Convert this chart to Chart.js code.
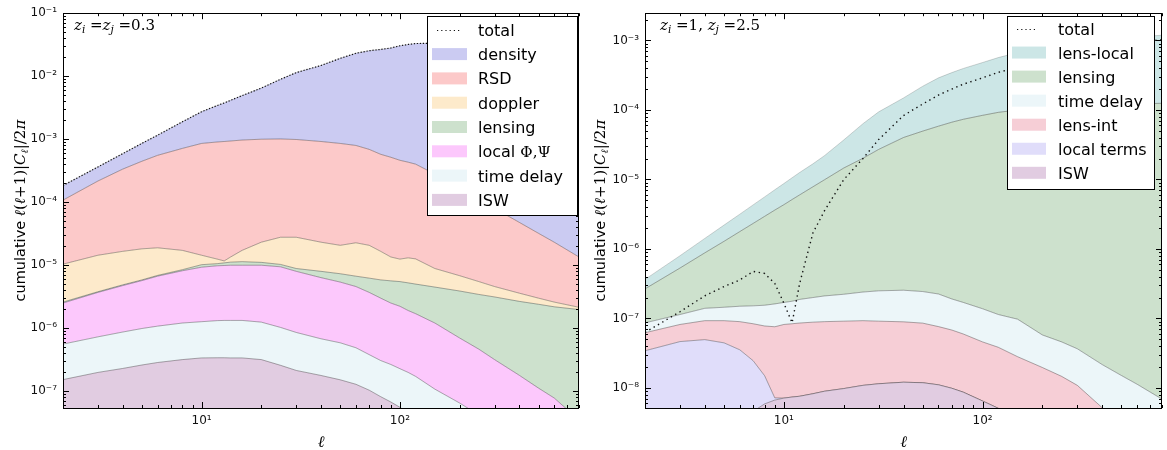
<!DOCTYPE html>
<html>
<head>
<meta charset="utf-8">
<script src="https://cdn.jsdelivr.net/npm/chart.js@4.4.1/dist/chart.umd.min.js"></script>
<style>
  html, body { margin: 0; padding: 0; background: #fff; }
  #wrap { position: relative; width: 1167px; height: 450px; overflow: hidden; }
  canvas { position: absolute; top: 0; }
  #left { left: 0; }
  #right { left: 583px; }
</style>
</head>
<body>
<div id="wrap">
  <canvas id="left" width="583" height="450"></canvas>
  <canvas id="right" width="584" height="450"></canvas>
</div>
<script>
// ---------- panel 1: z_i = z_j = 0.3 (cumulative contributions, bottom to top) ----------
const ELL_L = [2,3,4,5,6,8,10,12,13,14,16,20,25,30,40,50,60,70,80,90,100,110,120,150,200,250,300,400,500,600,800];
const TOTAL_L = [1.84e-4,3.63e-4,5.9e-4,8.6e-4,1.16e-3,1.89e-3,2.73e-3,3.43e-3,3.76e-3,4.14e-3,
  4.92e-3,6.48e-3,8.93e-3,1.14e-2,1.48e-2,1.92e-2,2.31e-2,2.54e-2,2.66e-2,2.8e-2,
  3.04e-2,3.19e-2,3.3e-2,3.33e-2,3.33e-2,3.32e-2,3.31e-2,3.3e-2,3.29e-2,3.28e-2,3.27e-2];
const DENSITY_L = TOTAL_L;   // the density band closes the stack at the total
const RSD_L = [1.08e-4,2.17e-4,3.35e-4,4.47e-4,5.55e-4,7.15e-4,8.57e-4,9.04e-4,9.2e-4,9.37e-4,
  9.7e-4,1.0e-3,1.01e-3,9.9e-4,9.2e-4,8.57e-4,7.96e-4,6.9e-4,5.76e-4,5.17e-4,
  4.63e-4,4.32e-4,4.02e-4,2.8e-4,1.66e-4,1.12e-4,8.0e-5,4.79e-5,3.21e-5,2.32e-5,1.35e-5];
const DOPPLER_L = [1.04e-5,1.44e-5,1.66e-5,1.82e-5,1.89e-5,1.72e-5,1.44e-5,1.25e-5,1.17e-5,1.35e-5,
  1.72e-5,2.32e-5,2.78e-5,2.78e-5,2.32e-5,2.07e-5,2.27e-5,2.07e-5,1.66e-5,1.35e-5,
  1.25e-5,1.31e-5,1.26e-5,8.87e-6,6.82e-6,5.5e-6,4.59e-6,3.6e-6,3.0e-6,2.6e-6,2.15e-6];
const LENSING_L = [2.6e-6,3.8e-6,4.88e-6,5.85e-6,6.9e-6,8.5e-6,1.02e-5,1.06e-5,1.09e-5,1.12e-5,
  1.14e-5,1.11e-5,1.03e-5,8.87e-6,8.0e-6,7.33e-6,6.7e-6,6.24e-6,5.85e-6,5.65e-6,
  5.5e-6,5.25e-6,5.02e-6,4.5e-6,3.9e-6,3.44e-6,3.14e-6,2.67e-6,2.4e-6,2.19e-6,1.98e-6];
const LOCAL_L = [2.51e-6,3.7e-6,4.75e-6,5.7e-6,6.7e-6,8.17e-6,9.3e-6,9.8e-6,9.9e-6,1.0e-5,
  1.0e-5,1.0e-5,9.44e-6,8.0e-6,6.35e-6,5.4e-6,4.59e-6,3.7e-6,3.0e-6,2.51e-6,
  2.23e-6,1.91e-6,1.7e-6,1.21e-6,7.0e-7,4.65e-7,3.18e-7,1.79e-7,1.12e-7,7.8e-8,3.5e-8];
const TDELAY_L = [5.6e-7,7.3e-7,8.7e-7,9.9e-7,1.08e-6,1.21e-6,1.27e-6,1.32e-6,1.33e-6,1.33e-6,
  1.33e-6,1.25e-6,1.03e-6,8.57e-7,6.8e-7,5.87e-7,4.9e-7,3.81e-7,3.07e-7,2.66e-7,
  2.28e-7,1.99e-7,1.72e-7,1.08e-7,6.5e-8,4.2e-8,3.0e-8,1.8e-8,1.2e-8,8e-9,4e-9];
const ISW_L = [1.53e-7,1.99e-7,2.3e-7,2.61e-7,2.86e-7,3.18e-7,3.38e-7,3.4e-7,3.4e-7,3.38e-7,
  3.38e-7,3.18e-7,2.58e-7,2.14e-7,1.78e-7,1.52e-7,1.29e-7,1.04e-7,8.2e-8,6.75e-8,
  5.57e-8,4.5e-8,3.8e-8,2.6e-8,1.5e-8,1.0e-8,7e-9,4e-9,2.8e-9,2e-9,1.1e-9];

// ---------- panel 2: z_i = 1, z_j = 2.5 ----------
const ELL_R = [2,3,4,5,6,7,8,9,10,11,12,14,16,20,25,30,40,50,60,70,80,100,120,150,200,250,300,400,500,600,800];
const TOTAL_R = [6.3e-8,1.25e-7,2.12e-7,2.88e-7,3.58e-7,4.75e-7,4.44e-7,3.2e-7,1.66e-7,8.65e-8,
  3.17e-7,1.7e-6,3.53e-6,9.93e-6,2.0e-5,3.76e-5,8.32e-5,1.22e-4,1.64e-4,2.0e-4,
  2.35e-4,2.9e-4,3.48e-4,4.1e-4,5.15e-4,6.06e-4,6.9e-4,8.14e-4,8.98e-4,9.6e-4,1.02e-3];
const LENSLOCAL_R = [3.65e-7,8.0e-7,1.42e-6,2.21e-6,3.17e-6,4.31e-6,5.62e-6,7.11e-6,8.75e-6,1.06e-5,
  1.26e-5,1.68e-5,2.2e-5,3.7e-5,6.35e-5,9.4e-5,1.49e-4,2.2e-4,2.9e-4,3.45e-4,
  3.96e-4,4.82e-4,5.68e-4,6.69e-4,7.87e-4,8.69e-4,9.27e-4,1.0e-3,1.07e-3,1.13e-3,1.19e-3];
const LENSING_R = [2.67e-7,5.32e-7,8.8e-7,1.29e-6,1.78e-6,2.33e-6,2.95e-6,3.63e-6,4.34e-6,5.15e-6,
  6.0e-6,7.85e-6,9.9e-6,1.46e-5,2.02e-5,2.71e-5,4.02e-5,4.97e-5,5.85e-5,6.67e-5,
  7.35e-5,8.38e-5,9.25e-5,1.0e-4,1.07e-4,1.12e-4,1.14e-4,1.17e-4,1.21e-4,1.22e-4,1.25e-4];
const TDELAY_R = [8.65e-8,1.14e-7,1.4e-7,1.45e-7,1.5e-7,1.52e-7,1.55e-7,1.62e-7,1.7e-7,1.77e-7,
  1.88e-7,2.0e-7,2.11e-7,2.23e-7,2.4e-7,2.5e-7,2.55e-7,2.44e-7,2.25e-7,1.91e-7,
  1.7e-7,1.38e-7,1.14e-7,9.77e-8,5.79e-8,4.6e-8,3.66e-8,2.17e-8,1.51e-8,1.13e-8,6.9e-9];
const LENSINT_R = [6.24e-8,8.2e-8,9.3e-8,9.3e-8,9.0e-8,8.4e-8,7.8e-8,7.6e-8,8.2e-8,8.4e-8,
  8.6e-8,8.85e-8,9.0e-8,9.15e-8,9.3e-8,9.15e-8,8.95e-8,8.57e-8,7.64e-8,6.82e-8,
  5.98e-8,4.6e-8,3.85e-8,2.82e-8,1.97e-8,1.47e-8,1.09e-8,5.2e-9,3.5e-9,2.5e-9,1.4e-9];
const LOCAL_R = [3.43e-8,4.65e-8,4.96e-8,4.46e-8,3.54e-8,2.47e-8,1.5e-8,7.2e-9,7.15e-9,7.4e-9,
  7.6e-9,8.26e-9,8.97e-9,9.8e-9,1.09e-8,1.15e-8,1.21e-8,1.19e-8,1.11e-8,9.9e-9,
  8.7e-9,6.5e-9,5.1e-9,3.5e-9,2.0e-9,1.4e-9,1.0e-9,6e-10,4e-10,3e-10,2e-10];
const ISW_R = [1.2e-9,1.8e-9,2.4e-9,3.0e-9,3.7e-9,4.6e-9,5.9e-9,6.7e-9,7.15e-9,7.4e-9,
  7.6e-9,8.26e-9,8.97e-9,9.8e-9,1.09e-8,1.15e-8,1.21e-8,1.19e-8,1.11e-8,9.9e-9,
  8.7e-9,6.5e-9,5.1e-9,3.5e-9,2.0e-9,1.4e-9,1.0e-9,6e-10,4e-10,3e-10,2e-10];

// ---------- axes ----------
const X_RANGE = [2, 800];
const X_TICKS = [10, 100];
const Y_RANGE_L = [5.42e-8, 1e-1];
const Y_TICKS_L = [1e-7, 1e-6, 1e-5, 1e-4, 1e-3, 1e-2, 1e-1];
const Y_RANGE_R = [5.15e-9, 2.47e-3];
const Y_TICKS_R = [1e-8, 1e-7, 1e-6, 1e-5, 1e-4, 1e-3];

const SANS = '"DejaVu Sans", "Noto Sans", sans-serif';
const SERIF = '"DejaVu Serif", "Liberation Serif", serif';

const SUP = {'-':'\u207B','0':'\u2070','1':'\u00B9','2':'\u00B2','3':'\u00B3','4':'\u2074',
             '5':'\u2075','6':'\u2076','7':'\u2077','8':'\u2078','9':'\u2079'};
function pow10Label(v) {
  const e = Math.round(Math.log10(v));
  return '10' + String(e).split('').map(c => SUP[c]).join('');
}

function pts(xs, ys) { return xs.map((x, i) => ({ x: x, y: ys[i] })); }

const EDGE = 'rgba(0,0,0,0.32)';

function band(label, xs, ys, color, fill, edge) {
  return {
    label: label, data: pts(xs, ys), backgroundColor: color, borderColor: edge || EDGE,
    borderWidth: 1, fill: fill, pointRadius: 0, tension: 0
  };
}
function totalLine(xs, ys, width, dash) {
  return {
    label: 'total', data: pts(xs, ys), borderColor: '#111', borderWidth: width,
    borderDash: dash, fill: false, pointRadius: 0, tension: 0, isTotal: true
  };
}

// minor + major positions on a log axis
function logSteps(min, max) {
  const out = [];
  for (let e = Math.floor(Math.log10(min)); e <= Math.ceil(Math.log10(max)); e++) {
    for (let m = 1; m < 10; m++) {
      const v = m * Math.pow(10, e);
      if (v >= min * 0.9999 && v <= max * 1.0001) out.push({ v: v, major: m === 1 });
    }
  }
  return out;
}

function richText(ctx, parts, x, y, align) {
  let w = 0;
  parts.forEach(p => { ctx.font = p.f; p.w = ctx.measureText(p.t).width; w += p.w; });
  let cx = align === 'center' ? x - w / 2 : x;
  ctx.textAlign = 'left';
  ctx.textBaseline = 'alphabetic';
  parts.forEach(p => { ctx.font = p.f; ctx.fillText(p.t, cx, y + (p.dy || 0)); cx += p.w; });
}

// legend label: plain words in sans, Greek symbols in serif
function labelParts(label) {
  const m = label.match(/^([^\u0370-\u03FF]*)(.*)$/);
  const parts = [{ t: m[1], f: '16px ' + SANS }];
  if (m[2]) parts.push({ t: m[2], f: '15px ' + SERIF });
  return parts;
}

function yTitleParts() {
  const it = 'italic 15px ' + SERIF, up = '15px ' + SERIF;
  return [
    { t: 'cumulative ', f: '14.5px ' + SANS },
    { t: '\u2113', f: it }, { t: '(', f: up }, { t: '\u2113', f: it }, { t: '+1)|', f: up },
    { t: 'C', f: it }, { t: '\u2113', f: 'italic 10px ' + SERIF, dy: 3 },
    { t: '|/2', f: up }, { t: '\u03C0', f: it }
  ];
}

function decorPlugin(cfg) {
  return {
    id: 'decor',
    afterDraw(chart) {
      const ctx = chart.ctx, a = chart.chartArea;
      const xs = chart.scales.x, ys = chart.scales.y;
      ctx.save();
      ctx.fillStyle = '#000';

      // inward ticks on all four sides
      ctx.strokeStyle = '#000';
      ctx.lineWidth = 1;
      ctx.beginPath();
      logSteps(xs.min, xs.max).forEach(s => {
        const px = Math.round(xs.getPixelForValue(s.v)) + 0.5;
        const len = s.major ? 6 : 3;
        ctx.moveTo(px, a.bottom); ctx.lineTo(px, a.bottom - len);
        ctx.moveTo(px, a.top); ctx.lineTo(px, a.top + len);
      });
      logSteps(ys.min, ys.max).forEach(s => {
        const py = Math.round(ys.getPixelForValue(s.v)) + 0.5;
        const len = s.major ? 6 : 3;
        ctx.moveTo(a.left, py); ctx.lineTo(a.left + len, py);
        ctx.moveTo(a.right, py); ctx.lineTo(a.right - len, py);
      });
      ctx.stroke();

      // frame
      ctx.strokeRect(Math.round(a.left) + 0.5, Math.round(a.top) + 0.5,
                     Math.round(a.right - a.left) - 1, Math.round(a.bottom - a.top));

      // redshift annotation
      ctx.fillStyle = '#000';
      richText(ctx, cfg.note, cfg.noteX, 30, 'left');

      // axis titles
      richText(ctx, [{ t: '\u2113', f: 'italic 16px ' + SERIF }], (a.left + a.right) / 2, 447, 'center');
      ctx.save();
      ctx.translate(cfg.yTitleX, (a.top + a.bottom) / 2);
      ctx.rotate(-Math.PI / 2);
      richText(ctx, yTitleParts(), 0, 5, 'center');
      ctx.restore();

      // legend
      const L = cfg.legend;
      ctx.fillStyle = '#fff';
      ctx.fillRect(L.x0, L.y0, L.x1 - L.x0, L.y1 - L.y0);
      ctx.strokeStyle = '#000';
      ctx.lineWidth = 1;
      ctx.strokeRect(L.x0 + 0.5, L.y0 + 0.5, L.x1 - L.x0, L.y1 - L.y0);
      const ds = chart.data.datasets;
      const items = [ds[0]].concat(ds.slice(1).reverse());
      items.forEach((d, i) => {
        const cy = L.row0 + i * L.step;
        if (d.isTotal) {
          ctx.save();
          ctx.strokeStyle = d.borderColor;
          ctx.lineWidth = 1.2;
          ctx.setLineDash([1.2, 3]);
          ctx.beginPath();
          ctx.moveTo(L.lx0, Math.round(cy) + 0.5);
          ctx.lineTo(L.lx1, Math.round(cy) + 0.5);
          ctx.stroke();
          ctx.restore();
        } else {
          ctx.fillStyle = d.backgroundColor;
          ctx.fillRect(L.px0, cy - 6, L.px1 - L.px0, 12);
        }
        ctx.fillStyle = '#000';
        richText(ctx, labelParts(d.label), L.tx, cy + 6, 'left');
      });
      ctx.restore();
    }
  };
}

function makeChart(canvasId, datasets, yRange, yTicks, axisWidth, padRight, cfg) {
  return new Chart(document.getElementById(canvasId), {
    type: 'line',
    data: { datasets: datasets },
    options: {
      responsive: false,
      animation: false,
      devicePixelRatio: 1,
      layout: { padding: { top: 8, right: padRight, bottom: 0, left: 0 } },
      plugins: { legend: { display: false }, tooltip: { enabled: false } },
      scales: {
        x: {
          type: 'logarithmic', min: X_RANGE[0], max: X_RANGE[1],
          grid: { display: false, drawTicks: false }, border: { display: false },
          ticks: {
            autoSkip: false, maxRotation: 0, padding: 6, color: '#111',
            font: { family: SANS, size: 12 }, callback: v => pow10Label(v)
          },
          afterBuildTicks: s => { s.ticks = X_TICKS.map(v => ({ value: v })); },
          afterFit: s => { s.height = 42; }
        },
        y: {
          type: 'logarithmic', min: yRange[0], max: yRange[1],
          grid: { display: false, drawTicks: false }, border: { display: false },
          ticks: {
            autoSkip: false, padding: 6, color: '#111',
            font: { family: SANS, size: 12 }, callback: v => pow10Label(v)
          },
          afterBuildTicks: s => { s.ticks = yTicks.map(v => ({ value: v })); },
          afterFit: s => { s.width = axisWidth; }
        }
      }
    },
    plugins: [decorPlugin(cfg)]
  });
}

const zi = 'italic 15px ' + SERIF, sub = 'italic 10.5px ' + SERIF, rm = '15px ' + SERIF;

// left panel: stacked bottom-to-top, total on top of everything
makeChart('left', [
  totalLine(ELL_L, TOTAL_L, 1.2, [1.2, 1.8]),
  band('ISW', ELL_L, ISW_L, '#e1cce1', 'start'),
  band('time delay', ELL_L, TDELAY_L, '#ecf6f9', '-1'),
  band('local \u03A6,\u03A8', ELL_L, LOCAL_L, '#fcc8fc', '-1'),
  band('lensing', ELL_L, LENSING_L, '#cde1cd', '-1'),
  band('doppler', ELL_L, DOPPLER_L, '#fdeacb', '-1'),
  band('RSD', ELL_L, RSD_L, '#fcc9c9', '-1'),
  band('density', ELL_L, DENSITY_L, '#cbcbf2', '-1', 'rgba(0,0,0,0.15)')
], Y_RANGE_L, Y_TICKS_L, 63, 4, {
  note: [{ t: 'z', f: zi }, { t: 'i', f: sub, dy: 3 }, { t: ' =', f: rm },
         { t: 'z', f: zi }, { t: 'j', f: sub, dy: 3 }, { t: ' =0.3', f: rm }],
  noteX: 74, yTitleX: 20,
  legend: { x0: 427, y0: 16, x1: 577, y1: 215, row0: 29.8, step: 24.3,
            px0: 432, px1: 467, lx0: 437, lx1: 462, tx: 478 }
});

// right panel
makeChart('right', [
  totalLine(ELL_R, TOTAL_R, 1.4, [1.4, 3.6]),
  band('ISW', ELL_R, ISW_R, '#e1cce1', 'start'),
  band('local terms', ELL_R, LOCAL_R, '#e0ddfa', '-1'),
  band('lens-int', ELL_R, LENSINT_R, '#f6ced6', '-1'),
  band('time delay', ELL_R, TDELAY_R, '#ecf6f9', '-1'),
  band('lensing', ELL_R, LENSING_R, '#cde1cd', '-1'),
  band('lens-local', ELL_R, LENSLOCAL_R, '#cce6e6', '-1', 'rgba(0,0,0,0.16)')
], Y_RANGE_R, Y_TICKS_R, 62, 5, {
  note: [{ t: 'z', f: zi }, { t: 'i', f: sub, dy: 3 }, { t: ' =1, ', f: rm },
         { t: 'z', f: zi }, { t: 'j', f: sub, dy: 3 }, { t: ' =2.5', f: rm }],
  noteX: 77, yTitleX: 17,
  legend: { x0: 424, y0: 16, x1: 571, y1: 189, row0: 28.5, step: 24.05,
            px0: 429, px1: 463, lx0: 434, lx1: 455, tx: 475 }
});
</script>
</body>
</html>
